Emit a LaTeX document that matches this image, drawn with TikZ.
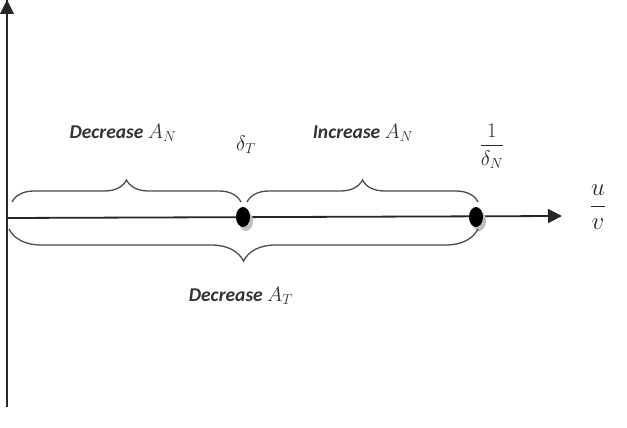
\documentclass[tikz,border=0pt]{standalone}
\usepackage{amsmath}
\usepackage{fontspec}
\setmainfont{Carlito}
\usetikzlibrary{arrows.meta,decorations.pathreplacing,shapes.geometric}
\tikzset{
  axis/.style={line width=1.8pt,draw=black!85},
  bracestyle/.style={decorate,decoration={brace,amplitude=#1},line width=1.3pt,draw=black!70},
  dot/.style={ellipse,fill=black,minimum width=14pt,minimum height=20pt,inner sep=0pt},
  lbl/.style={font=\fontsize{19.5}{23}\selectfont\bfseries\itshape,text=black!80},
  mth/.style={font=\fontsize{20}{24}\selectfont,text=black!85}
}
\begin{document}
\begin{tikzpicture}[x=1pt,y=-1pt]
\useasboundingbox (0,0) rectangle (627,428);
\coordinate (O) at (7,218);
\coordinate (top) at (7,0);
\coordinate (bot) at (7,407);
\coordinate (xend) at (562,216);
\draw[axis] (bot) -- (top);
\fill[black!85] (0,14) -- (7,0) -- (14,14) -- cycle;
\draw[axis,-{Triangle[length=14pt,width=14pt]}] (O) -- (xend);
\fill[black!25] (246,221) ellipse (7pt and 10pt);
\fill[black!25] (479,221) ellipse (7pt and 10pt);
\node[dot] (dT) at (243,217) {};
\node[dot] (dN) at (476,217) {};
\coordinate (b1s) at (12,202);
\coordinate (b1e) at (241,202);
\coordinate (b2s) at (247,202);
\coordinate (b2e) at (478,202);
\coordinate (b3s) at (478,229);
\coordinate (b3e) at (9,229);
\draw[bracestyle=22pt] (b1s) -- (b1e);
\draw[bracestyle=22pt] (b2s) -- (b2e);
\draw[bracestyle=32pt] (b3s) -- (b3e);
\node[lbl] (l1) at (123,133) {Decrease $A_N$};
\node[lbl] (l2) at (363,133) {Increase $A_N$};
\node[lbl] (l3) at (241,296) {Decrease $A_T$};
\node[mth] (t1) at (246,145) {$\delta_T$};
\node[mth] (t2) at (492,146) {$\dfrac{1}{\delta_N}$};
\node[font=\fontsize{36}{40}\selectfont,text=black!85] (uv) at (598,207) {$\dfrac{u}{v}$};
\end{tikzpicture}
\end{document}
